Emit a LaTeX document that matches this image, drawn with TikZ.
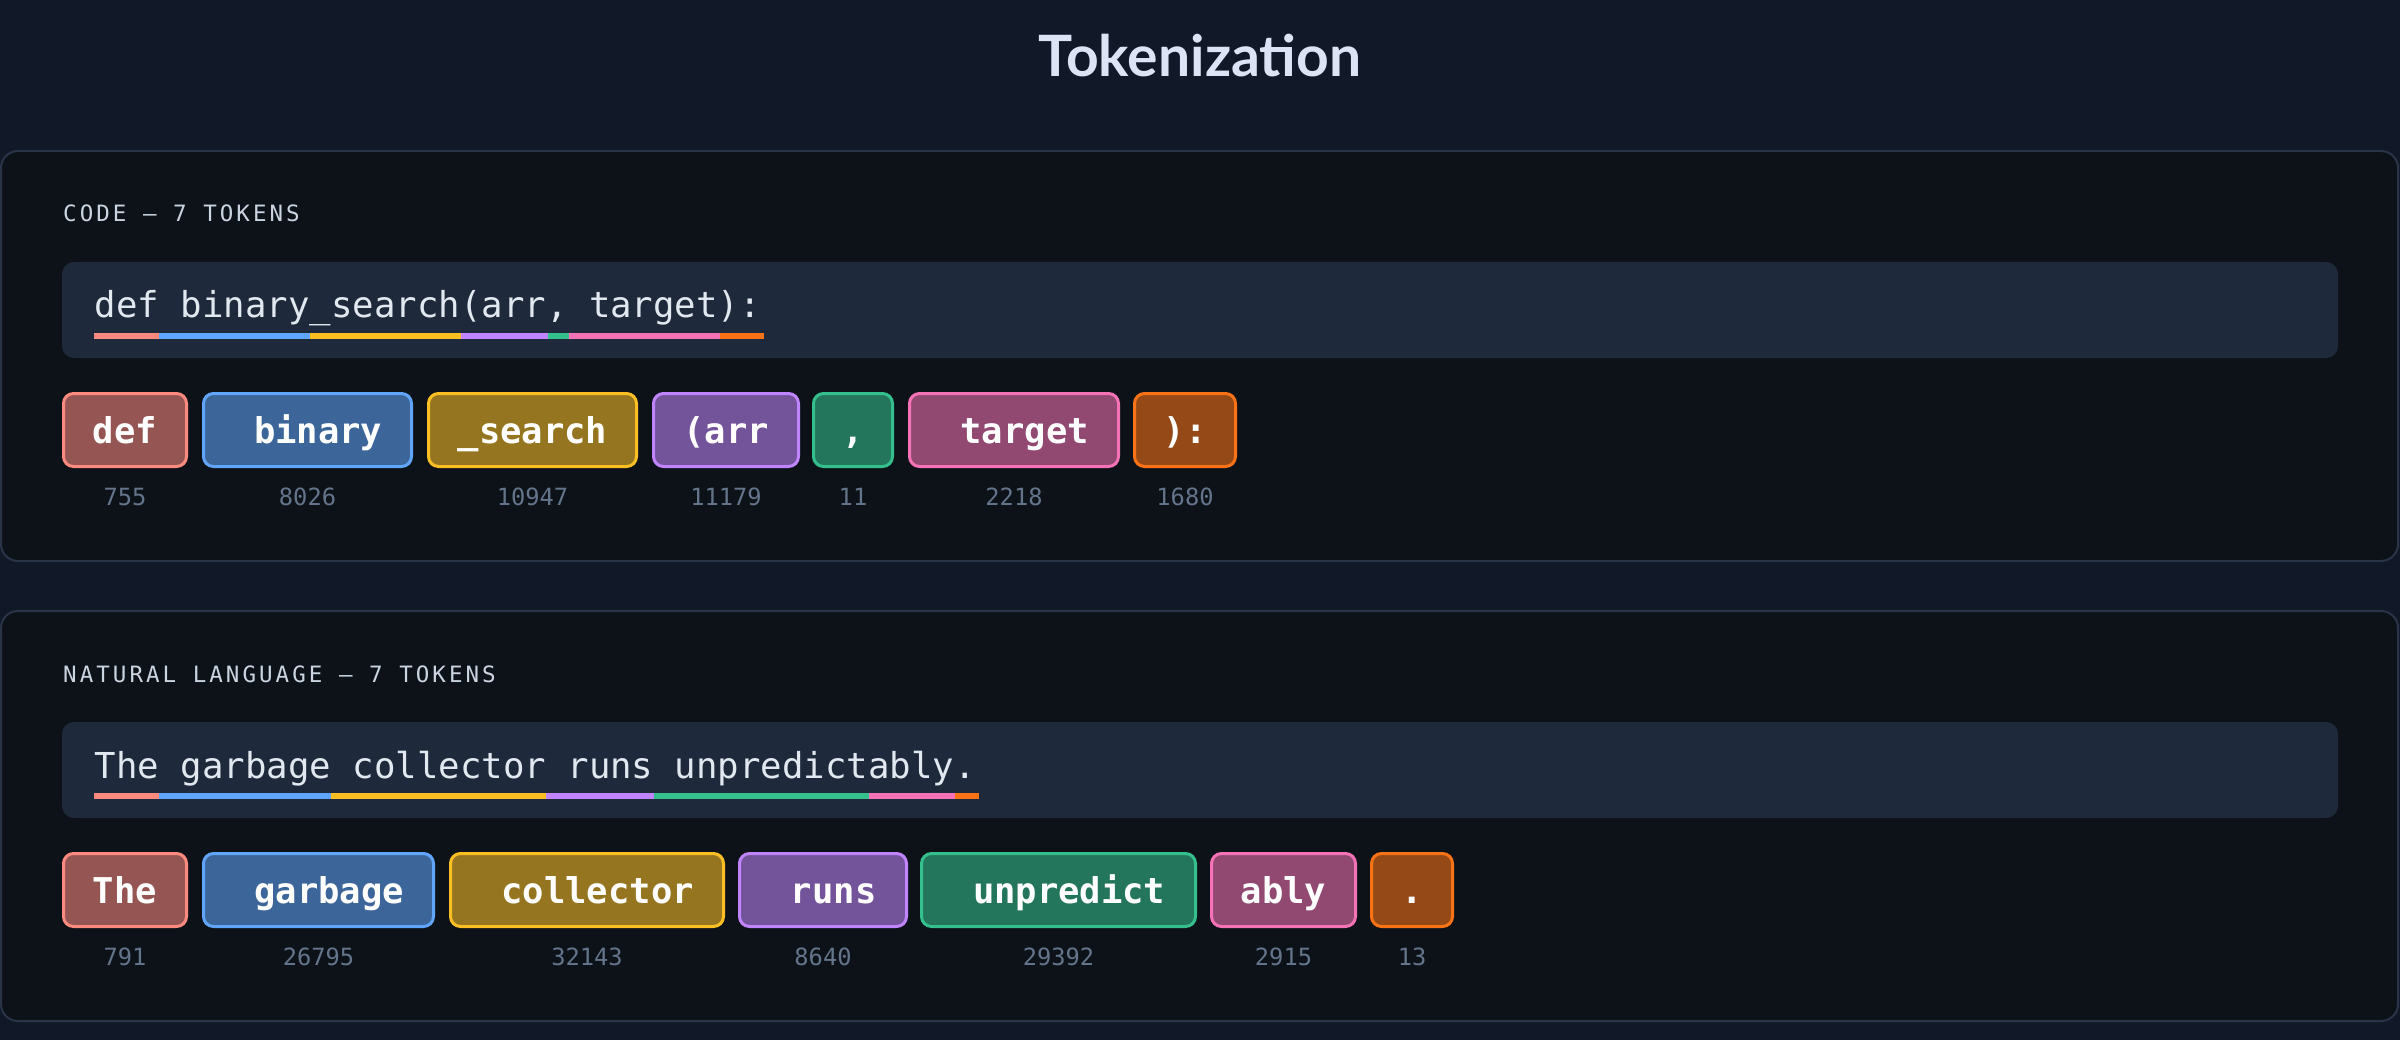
\documentclass[tikz,border=0pt]{standalone}
\usepackage{fontspec}
\setmainfont{Lato}
\newfontfamily\monof{DejaVu Sans Mono}
\newfontfamily\labelf[LetterSpace=13.5]{DejaVu Sans Mono}
\definecolor{bgc}{HTML}{111827}
\definecolor{panelc}{HTML}{0D1219}
\definecolor{panelline}{HTML}{2A3448}
\definecolor{codebg}{HTML}{1E293B}
\definecolor{codetext}{HTML}{E2E8F0}
\definecolor{labelc}{HTML}{CBD5E1}
\definecolor{idc}{HTML}{64748B}
\definecolor{titlec}{HTML}{DCE3F5}
\definecolor{csalmon}{HTML}{FC8A7E}
\definecolor{cblue}{HTML}{60A5FA}
\definecolor{cyellow}{HTML}{FBBF24}
\definecolor{cpurple}{HTML}{C084FC}
\definecolor{cgreen}{HTML}{34BF8C}
\definecolor{cpink}{HTML}{F472B6}
\definecolor{corange}{HTML}{F97316}
\newcommand\tokenbox[7]{%
  \node[tokstyle, draw=#5, fill=#5!57!panelc, minimum width={#3-#2-3}] (#1) at ({(#2+#3)/2},{#4+38}) {#6};
  \node[tokid] (#1n) at ({(#2+#3)/2},{#4+113}) {#7};
}
\newcommand\seg[4]{\fill[#4] (#1,#3) rectangle (#2,{#3+6});}
\begin{document}
\begin{tikzpicture}[x=1pt,y=-1pt,
  panelstyle/.style={draw=panelline, line width=2pt, fill=panelc, rounded corners=17pt},
  codebox/.style={fill=codebg, rounded corners=12pt},
  tokstyle/.style={line width=3pt, rounded corners=10pt, minimum height=73pt, inner sep=0pt,
     text height=30pt, text depth=4pt, text=white, font=\monof\bfseries\fontsize{35.5}{40}\selectfont},
  tokid/.style={anchor=base, inner sep=0pt, text=idc, font=\monof\fontsize{23.7}{26}\selectfont},
  seclabel/.style={anchor=base west, inner sep=0pt, text=labelc, font=\labelf\fontsize{22.5}{24}\selectfont},
  codeline/.style={anchor=base west, inner sep=0pt, text=codetext, font=\monof\fontsize{35.7}{40}\selectfont}
]
\useasboundingbox (0,0) rectangle (2400,1040);
\fill[bgc] (0,0) rectangle (2400,1040);
\node[anchor=base, inner sep=0pt, text=titlec, font=\bfseries\fontsize{57}{60}\selectfont] (title) at (1200,77) {Tokenization};

% ---------- Panel 1: code ----------
\draw[panelstyle] (1,151) rectangle (2398,561);
\node[seclabel] (lab1) at (63,222) {CODE — 7 TOKENS};
\fill[codebox] (62,262) rectangle (2338,358);
\node[codeline] (code1) at (94.5,318) {def binary\_search(arr, target):};
\seg{94}{159}{333}{csalmon}
\seg{159}{310}{333}{cblue}
\seg{310}{461}{333}{cyellow}
\seg{461}{548}{333}{cpurple}
\seg{548}{569}{333}{cgreen}
\seg{569}{720}{333}{cpink}
\seg{720}{764}{333}{corange}
\tokenbox{a1}{62}{188}{392}{csalmon}{def}{755}
\tokenbox{a2}{202}{413}{392}{cblue}{\hphantom{x}binary}{8026}
\tokenbox{a3}{427}{638}{392}{cyellow}{\_search}{10947}
\tokenbox{a4}{652}{800}{392}{cpurple}{(arr}{11179}
\tokenbox{a5}{812}{894}{392}{cgreen}{,}{11}
\tokenbox{a6}{908}{1120}{392}{cpink}{\hphantom{x}target}{2218}
\tokenbox{a7}{1133}{1237}{392}{corange}{):}{1680}

% ---------- Panel 2: natural language ----------
\draw[panelstyle] (1,611) rectangle (2398,1021);
\node[seclabel] (lab2) at (63,682) {NATURAL LANGUAGE — 7 TOKENS};
\fill[codebox] (62,722) rectangle (2338,818);
\node[codeline] (code2) at (94.5,778) {The garbage collector runs unpredictably.};
\seg{94}{159}{793}{csalmon}
\seg{159}{331}{793}{cblue}
\seg{331}{546}{793}{cyellow}
\seg{546}{654}{793}{cpurple}
\seg{654}{869}{793}{cgreen}
\seg{869}{955}{793}{cpink}
\seg{955}{979}{793}{corange}
\tokenbox{b1}{62}{188}{852}{csalmon}{The}{791}
\tokenbox{b2}{202}{435}{852}{cblue}{\hphantom{x}garbage}{26795}
\tokenbox{b3}{449}{725}{852}{cyellow}{\hphantom{x}collector}{32143}
\tokenbox{b4}{738}{908}{852}{cpurple}{\hphantom{x}runs}{8640}
\tokenbox{b5}{920}{1197}{852}{cgreen}{\hphantom{x}unpredict}{29392}
\tokenbox{b6}{1210}{1357}{852}{cpink}{ably}{2915}
\tokenbox{b7}{1370}{1454}{852}{corange}{.}{13}
\end{tikzpicture}
\end{document}
